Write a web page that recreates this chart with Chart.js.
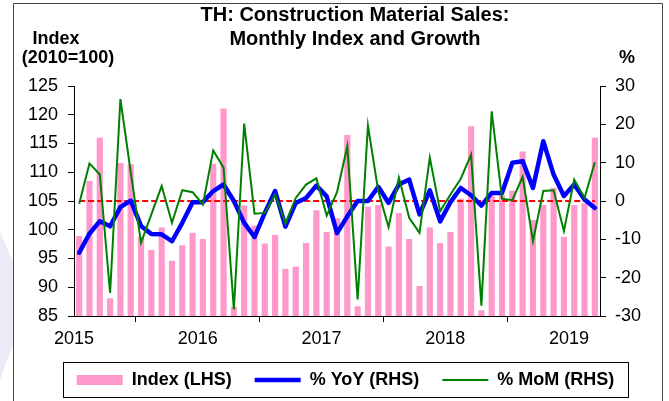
<!DOCTYPE html>
<html><head><meta charset="utf-8">
<script src="https://cdn.jsdelivr.net/npm/chart.js@4.4.1/dist/chart.umd.min.js"></script>
<style>html,body{margin:0;padding:0;background:#fff;}</style>
</head><body>
<canvas id="c" width="669" height="401"></canvas>
<script>
// ---- data ----
const months = [
 '2015-01','2015-02','2015-03','2015-04','2015-05','2015-06','2015-07','2015-08','2015-09','2015-10','2015-11','2015-12',
 '2016-01','2016-02','2016-03','2016-04','2016-05','2016-06','2016-07','2016-08','2016-09','2016-10','2016-11','2016-12',
 '2017-01','2017-02','2017-03','2017-04','2017-05','2017-06','2017-07','2017-08','2017-09','2017-10','2017-11','2017-12',
 '2018-01','2018-02','2018-03','2018-04','2018-05','2018-06','2018-07','2018-08','2018-09','2018-10','2018-11','2018-12',
 '2019-01','2019-02','2019-03'];
const yearLabels = ['2015','2016','2017','2018','2019'];
const indexValues = [
 98.9,108.5,116.0,88.1,111.6,111.4,98.8,96.5,100.4,94.6,97.3,99.5,
 98.4,111.5,121.1,86.6,104.2,100.7,97.6,99.1,93.2,93.6,97.7,103.4,
 99.6,102.0,116.5,86.7,104.0,104.3,97.1,102.9,98.4,90.2,100.4,97.7,
 99.6,105.4,118.0,86.0,105.9,106.0,106.8,113.6,101.7,104.3,107.3,98.8,
 104.3,104.6,116.0];
const yoyValues = [
 -13.5,-8.5,-5.3,-6.6,-1.6,0.1,-6.5,-8.6,-8.7,-10.5,-5.7,-0.3,
 -0.3,2.6,4.3,0.0,-5.7,-9.4,-3.1,2.6,-6.7,-0.5,0.8,4.0,
 1.2,-8.4,-4.0,0.0,0.0,3.7,-0.5,4.3,5.6,-3.5,2.8,-5.3,
 -0.3,3.4,1.5,-1.2,2.1,2.1,10.0,10.4,3.4,15.6,6.9,1.3,
 4.3,0.4,-1.8];
const momValues = [
 -0.7,9.8,6.9,-24.0,26.6,7.5,-10.9,-3.5,3.9,-5.7,2.8,2.3,
 -0.9,13.2,8.7,-28.3,20.2,-3.3,-3.1,1.7,-5.9,0.8,4.3,5.9,
 -3.8,2.3,14.3,-25.7,19.7,2.6,-6.8,6.1,-4.4,-8.3,11.3,-2.7,
 1.7,5.8,12.1,-27.3,23.4,0.6,0.2,6.3,-10.5,2.6,2.8,-7.8,
 5.6,0.8,10.1];
const zeroValues = months.map(() => 0);
const titleLines = ['TH: Construction Material Sales:', 'Monthly Index and Growth'];
const leftAxisTitle = ['Index', '(2010=100)'];
const rightAxisTitle = '%';
const seriesNames = ['Index (LHS)', '% YoY (RHS)', '% MoM (RHS)'];

// ---- build ----
const FONT = '"Liberation Sans", Arial, Helvetica, sans-serif';
const pts = arr => arr.map((v, i) => ({x: i + 0.5, y: v}));
const yearTicks = yearLabels.map((l, i) => i * 12);

const decor = {
  id: 'decor',
  beforeDraw(chart) {
    const ctx = chart.ctx;
    ctx.save();
    ctx.fillStyle = '#fff';
    ctx.fillRect(0, 0, chart.width, chart.height);
    ctx.fillStyle = '#ECEAF5';
    ctx.beginPath();
    ctx.moveTo(0, 232); ctx.lineTo(13, 262); ctx.lineTo(13, 345); ctx.lineTo(0, 380);
    ctx.closePath(); ctx.fill();
    ctx.strokeStyle = '#444'; ctx.lineWidth = 1;
    ctx.beginPath();
    ctx.moveTo(13.5, 401); ctx.lineTo(13.5, 3.5); ctx.lineTo(662.5, 3.5); ctx.lineTo(662.5, 401);
    ctx.stroke();
    ctx.fillStyle = '#000'; ctx.textAlign = 'center'; ctx.textBaseline = 'middle';
    ctx.font = 'bold 20px ' + FONT;
    ctx.fillText(titleLines[0], 355, 15);
    ctx.fillText(titleLines[1], 355, 39);
    ctx.font = 'bold 18px ' + FONT;
    ctx.fillText(leftAxisTitle[0], 56, 39);
    ctx.fillText(leftAxisTitle[1], 68, 58);
    ctx.fillText(rightAxisTitle, 627, 58);
    ctx.restore();
  },
  afterDraw(chart) {
    const ctx = chart.ctx;
    ctx.save();
    ctx.strokeStyle = '#000'; ctx.lineWidth = 1;
    ctx.strokeRect(63.5, 362.5, 565, 35);
    ctx.restore();
  }
};

const legendStyles = [
  {pointStyle: 'rect', fillStyle: '#FF99CC', strokeStyle: '#FF99CC', lineWidth: 0},
  {pointStyle: 'line', fillStyle: '#0000FF', strokeStyle: '#0000FF', lineWidth: 4.5},
  {pointStyle: 'line', fillStyle: '#008000', strokeStyle: '#008000', lineWidth: 2}
];

new Chart(document.getElementById('c'), {
  data: {
    datasets: [
      {type: 'bar', label: seriesNames[0], data: pts(indexValues), yAxisID: 'y',
       backgroundColor: '#FF99CC', borderWidth: 0, barPercentage: 0.6, categoryPercentage: 1.0, order: 4},
      {type: 'line', label: seriesNames[1], data: pts(yoyValues), yAxisID: 'y1',
       borderColor: '#0000FF', borderWidth: 4.5, pointRadius: 0, tension: 0, borderJoinStyle: 'round', borderCapStyle: 'round', order: 2},
      {type: 'line', label: seriesNames[2], data: pts(momValues), yAxisID: 'y1',
       borderColor: '#008000', borderWidth: 2, pointRadius: 0, tension: 0, order: 1},
      {type: 'line', label: '', data: pts(zeroValues), yAxisID: 'y1',
       borderColor: '#FF0000', borderWidth: 2, borderDash: [6, 3], pointRadius: 0, order: 3}
    ]
  },
  options: {
    responsive: false,
    animation: false,
    devicePixelRatio: 1,
    layout: {padding: {top: 86, left: 22, right: 0, bottom: 2}},
    plugins: {
      title: {display: false},
      tooltip: {enabled: false},
      legend: {
        position: 'bottom',
        labels: {
          usePointStyle: true,
          pointStyleWidth: 46,
          boxHeight: 10,
          padding: 23,
          color: '#000',
          font: {family: FONT, size: 18, weight: 'bold'},
          filter: item => item.datasetIndex < 3,
          sort: (a, b) => a.datasetIndex - b.datasetIndex,
          generateLabels: chart => chart.data.datasets.map((ds, i) => Object.assign({
            text: ds.label, datasetIndex: i, hidden: false, fontColor: '#000'
          }, legendStyles[i] || {lineWidth: 0, pointStyle: 'line', strokeStyle: 'rgba(0,0,0,0)', fillStyle: 'rgba(0,0,0,0)'}))
        }
      }
    },
    scales: {
      x: {
        type: 'linear', min: 0, max: months.length, offset: false,
        afterBuildTicks: s => { s.ticks = yearTicks.map(v => ({value: v})); },
        afterFit: s => { s.height = 32; },
        ticks: {
          autoSkip: false, maxRotation: 0, padding: 6, color: '#000',
          font: {family: FONT, size: 18},
          callback: (v) => yearLabels[Math.round(v / 12)]
        },
        grid: {drawOnChartArea: false, drawTicks: true, tickLength: 6, color: '#000'},
        border: {display: true, color: '#000', width: 1}
      },
      y: {
        position: 'left', min: 85, max: 125,
        afterFit: s => { s.width = 52; },
        ticks: {stepSize: 5, padding: 10, color: '#000', font: {family: FONT, size: 18}},
        grid: {drawOnChartArea: false, drawTicks: true, tickLength: 6, color: '#000'},
        border: {display: true, color: '#000', width: 1}
      },
      y1: {
        position: 'right', min: -30, max: 30,
        afterFit: s => { s.width = 69; },
        ticks: {stepSize: 10, padding: 9, color: '#000', font: {family: FONT, size: 18}},
        grid: {drawOnChartArea: false, drawTicks: true, tickLength: 6, color: '#000'},
        border: {display: true, color: '#000', width: 1}
      }
    }
  },
  plugins: [decor]
});
</script>
</body></html>
